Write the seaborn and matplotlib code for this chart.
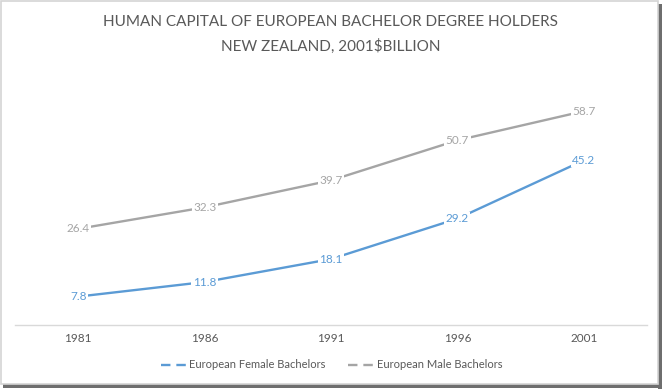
import numpy as np
import pandas as pd
import matplotlib
matplotlib.use("Agg")
import matplotlib.pyplot as plt
from matplotlib.patches import Rectangle
from matplotlib.lines import Line2D
import seaborn as sns

years = ["1981", "1986", "1991", "1996", "2001"]
female = [7.8, 11.8, 18.1, 29.2, 45.2]
male = [26.4, 32.3, 39.7, 50.7, 58.7]
series_names = ["European Female Bachelors", "European Male Bachelors"]
colors = {"European Female Bachelors": "#5B9BD5", "European Male Bachelors": "#A5A5A5"}

sns.set_theme(style="white")
plt.rcParams["font.family"] = ["Lato", "DejaVu Sans"]

W, H = 663, 389
fig = plt.figure(figsize=(W / 100, H / 100), dpi=100)
ax = fig.add_axes([15 / W, 1 - 325 / H, (647 - 15) / W, (325 - 70) / H])

pos = np.arange(len(years))
df = pd.DataFrame({
    "pos": np.concatenate([pos, pos]),
    "value": female + male,
    "series": [series_names[0]] * len(years) + [series_names[1]] * len(years),
})
sns.lineplot(data=df, x="pos", y="value", hue="series", palette=colors,
             linewidth=1.7, ax=ax, legend=False)

for name, vals in zip(series_names, [female, male]):
    for x, v in zip(pos, vals):
        ax.text(x, v, f"{v:.1f}", ha="center", va="center", fontsize=8.5,
                color=colors[name], zorder=5,
                bbox=dict(boxstyle="square,pad=0.12", fc="white", ec="none"))

ax.set_xlim(-0.5, len(years) - 0.5)
ax.set_ylim(0, 70)
ax.set_xticks(pos)
ax.set_xticklabels(years, fontsize=8.5, color="#595959")
ax.set_yticks([])
ax.set_xlabel("")
ax.set_ylabel("")
ax.tick_params(axis="x", length=0, pad=6)
for side in ["left", "right", "top"]:
    ax.spines[side].set_visible(False)
ax.spines["bottom"].set_color("#D9D9D9")
ax.spines["bottom"].set_linewidth(1)

fig.text(0.499, 1 - 22 / H, "HUMAN CAPITAL OF EUROPEAN BACHELOR DEGREE HOLDERS",
         ha="center", va="center", fontsize=11, color="#595959")
fig.text(0.499, 1 - 46 / H, "NEW ZEALAND, 2001$BILLION",
         ha="center", va="center", fontsize=11, color="#595959")

handles = [Line2D([0], [0], color=colors[n], lw=1.7, linestyle=(0, (4, 2.5))) for n in series_names]
fig.legend(handles, series_names, loc="center", bbox_to_anchor=(0.5, 1 - 365 / H),
           ncol=2, frameon=False, fontsize=8, labelcolor="#595959",
           handlelength=2.3, columnspacing=2.0, handletextpad=0.3)

# screenshot frame with shadow
def px(x0, y0, x1, y1, **kw):
    fig.patches.append(Rectangle((x0 / W, 1 - y1 / H), (x1 - x0) / W, (y1 - y0) / H,
                                 transform=fig.transFigure, **kw))

px(658, 4, 662, 389, fc="#6E6E6E", ec="none")
px(3, 384, 662, 388, fc="#6E6E6E", ec="none")
px(0.5, 0.5, 658, 384, fc="none", ec="#D4D4D4", lw=1.2)

fig.savefig("out.png", dpi=100)
